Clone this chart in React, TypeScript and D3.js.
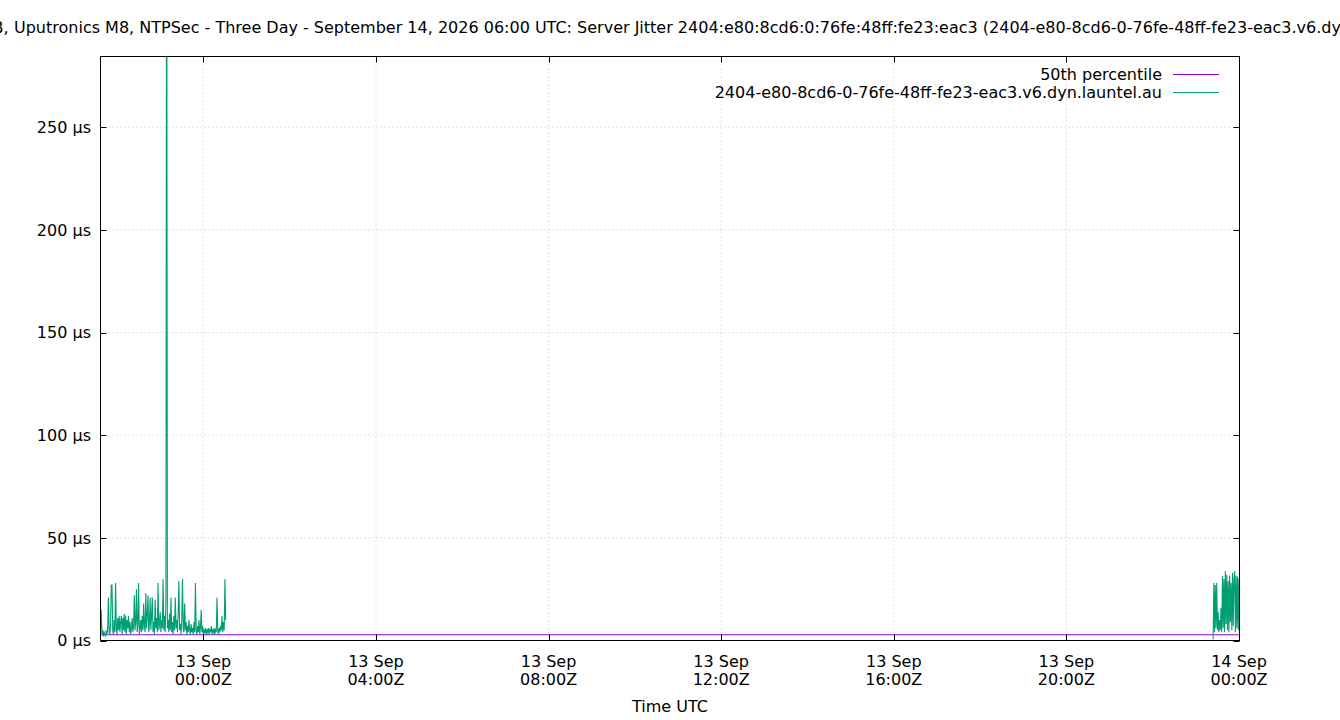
import { useEffect, useRef } from 'react';
import * as d3 from 'd3';

// title is wider than the page in the original render, so it is split in two parts
const titleHead = 'Raspberry Pi 3B,';
const titleTail =
  'Uputronics M8, NTPSec - Three Day - September 14, 2026 06:00 UTC: Server Jitter 2404:e80:8cd6:0:76fe:48ff:fe23:eac3 (2404-e80-8cd6-0-76fe-48ff-fe23-eac3.v6.dyn.launtel.au)';

const seriesName = '2404-e80-8cd6-0-76fe-48ff-fe23-eac3.v6.dyn.launtel.au';
const percentileName = '50th percentile';

// jitter in µs, one sample per minute
const firstRunStart = '2026-09-12T21:37:00Z';
const firstRun = [
  4, 15, 3, 5, 2, 4, 3, 2, 5, 3,
  6, 21, 4, 3, 8, 27, 27, 5, 3, 10,
  4, 28, 6, 3, 11, 5, 12, 4, 9, 12,
  3, 11, 5, 13, 4, 12, 3, 10, 6, 12,
  4, 9, 3, 6, 11, 4, 7, 22, 5, 9,
  25, 4, 8, 28, 3, 6, 10, 4, 12, 5,
  18, 7, 4, 23, 6, 12, 22, 4, 8, 21,
  5, 12, 21, 4, 9, 3, 20, 6, 11, 4,
  28, 5, 8, 14, 4, 10, 6, 30, 5, 12,
  4, 22, 420, 6, 10, 4, 13, 5, 21, 4,
  9, 3, 12, 5, 21, 6, 10, 4, 14, 29,
  5, 8, 3, 11, 30, 6, 4, 18, 5, 9,
  3, 7, 4, 10, 5, 3, 8, 4, 6, 3,
  9, 4, 28, 5, 3, 7, 4, 10, 3, 6,
  15, 4, 7, 3, 5, 4, 6, 3, 5, 4,
  6, 3, 5, 4, 7, 3, 5, 4, 6, 3,
  5, 4, 21, 5, 3, 6, 4, 7, 5, 12,
  4, 9, 5, 30, 10,
];

const secondRunStart = '2026-09-13T23:24:00Z';
const secondRun = [
  0.5, 28, 4, 27, 6, 28, 5, 14, 4, 10,
  5, 16, 4, 31.5, 6, 30, 4, 33.7, 8, 32,
  5, 29, 4, 31.5, 9, 28, 5, 33, 7, 30,
  33.7, 4, 31.5, 6, 31, 5, 30,
];

const percentileValue = 2.8;
const xStart = '2026-09-12T21:37:00Z';
const xEnd = '2026-09-14T00:00:00Z';

const xTicks = [
  '2026-09-13T00:00:00Z',
  '2026-09-13T04:00:00Z',
  '2026-09-13T08:00:00Z',
  '2026-09-13T12:00:00Z',
  '2026-09-13T16:00:00Z',
  '2026-09-13T20:00:00Z',
  '2026-09-14T00:00:00Z',
];
const yTicks = [0, 50, 100, 150, 200, 250];
const yMax = 284.5;

const FONT = '"DejaVu Sans", sans-serif';
const GREEN = '#009e73';
const PURPLE = '#9400d3';

function toPoints(start: string, values: number[]) {
  const t0 = new Date(start).getTime();
  return values.map((v, i) => ({ t: new Date(t0 + i * 60000), v }));
}

export default function App() {
  const svgRef = useRef<SVGSVGElement>(null);

  useEffect(() => {
    if (!svgRef.current) return;
    const svg = d3.select(svgRef.current);
    svg.selectAll('*').remove();

    const W = 1340;
    const H = 720;
    const margin = { top: 56.5, right: 101, bottom: 79.5, left: 100.5 };
    const left = margin.left;
    const right = W - margin.right + 0.5;
    const top = margin.top;
    const bottom = H - margin.bottom;

    svg.attr('width', W).attr('height', H);
    svg.append('rect').attr('width', W).attr('height', H).attr('fill', '#fff');

    const x = d3
      .scaleUtc()
      .domain([new Date(xStart), new Date(xEnd)])
      .range([left, right - 0.5]);
    const y = d3.scaleLinear().domain([0, yMax]).range([bottom, top]);

    // Grid
    const grid = svg.append('g').attr('stroke', '#b8b8b8').attr('stroke-width', 0.8).attr('stroke-dasharray', '1,3');
    yTicks.forEach((v) => {
      grid.append('line').attr('x1', left).attr('x2', right).attr('y1', y(v)).attr('y2', y(v));
    });
    xTicks.forEach((d) => {
      const px = x(new Date(d));
      grid.append('line').attr('x1', px).attr('x2', px).attr('y1', top).attr('y2', bottom);
    });

    // Clip
    svg
      .append('clipPath')
      .attr('id', 'plot-clip')
      .append('rect')
      .attr('x', left)
      .attr('y', top)
      .attr('width', right - left)
      .attr('height', bottom - top);

    const plot = svg.append('g').attr('clip-path', 'url(#plot-clip)');

    const line = d3
      .line<{ t: Date; v: number }>()
      .x((d) => x(d.t))
      .y((d) => y(d.v));

    // percentile line
    plot
      .append('path')
      .datum([
        { t: new Date(xStart), v: percentileValue },
        { t: new Date(xEnd), v: percentileValue },
      ])
      .attr('d', line)
      .attr('fill', 'none')
      .attr('stroke', PURPLE)
      .attr('stroke-width', 1);

    [toPoints(firstRunStart, firstRun), toPoints(secondRunStart, secondRun)].forEach((pts) => {
      plot
        .append('path')
        .datum(pts)
        .attr('d', line)
        .attr('fill', 'none')
        .attr('stroke', GREEN)
        .attr('stroke-width', 1.1)
        .attr('stroke-linejoin', 'miter');
    });

    // Border and ticks
    svg
      .append('rect')
      .attr('x', left)
      .attr('y', top)
      .attr('width', right - left)
      .attr('height', bottom - top)
      .attr('fill', 'none')
      .attr('stroke', '#000')
      .attr('stroke-width', 1);

    const ticks = svg.append('g').attr('stroke', '#000').attr('stroke-width', 1);
    const tl = 6;
    yTicks.forEach((v) => {
      const py = Math.round(y(v)) + 0.5;
      ticks.append('line').attr('x1', left).attr('x2', left + tl).attr('y1', py).attr('y2', py);
      ticks.append('line').attr('x1', right).attr('x2', right - tl).attr('y1', py).attr('y2', py);
    });
    xTicks.forEach((d) => {
      const px = Math.round(x(new Date(d))) + 0.5;
      ticks.append('line').attr('x1', px).attr('x2', px).attr('y1', bottom).attr('y2', bottom - tl);
      ticks.append('line').attr('x1', px).attr('x2', px).attr('y1', top).attr('y2', top + tl);
    });

    const txt = svg.append('g').attr('font-family', FONT).attr('font-size', 16).attr('fill', '#000');

    // Y labels
    yTicks.forEach((v) => {
      txt
        .append('text')
        .attr('x', 91)
        .attr('y', y(v))
        .attr('dy', '0.36em')
        .attr('text-anchor', 'end')
        .text(`${v} µs`);
    });

    // X labels
    const dayFmt = d3.utcFormat('%-d %b');
    const timeFmt = d3.utcFormat('%H:%MZ');
    xTicks.forEach((d) => {
      const dt = new Date(d);
      const px = x(dt);
      txt.append('text').attr('x', px).attr('y', 666.5).attr('text-anchor', 'middle').text(dayFmt(dt));
      txt.append('text').attr('x', px).attr('y', 684.5).attr('text-anchor', 'middle').text(timeFmt(dt));
    });

    txt.append('text').attr('x', 670).attr('y', 712).attr('text-anchor', 'middle').text('Time UTC');

    // Title
    txt.append('text').attr('x', 8.5).attr('y', 33).attr('text-anchor', 'end').text(titleHead);
    txt.append('text').attr('x', 14).attr('y', 33).attr('text-anchor', 'start').text(titleTail);

    // Legend
    const legend = [
      { name: percentileName, color: PURPLE },
      { name: seriesName, color: GREEN },
    ];
    legend.forEach((item, i) => {
      const ly = 74 + i * 18;
      txt.append('text').attr('x', 1162).attr('y', ly).attr('dy', '0.36em').attr('text-anchor', 'end').text(item.name);
      svg
        .append('line')
        .attr('x1', 1173)
        .attr('x2', 1219)
        .attr('y1', ly + 0.5)
        .attr('y2', ly + 0.5)
        .attr('stroke', item.color)
        .attr('stroke-width', 1);
    });
  }, []);

  return (
    <div style={{ position: 'absolute', left: 0, top: 0 }}>
      <svg ref={svgRef} style={{ display: 'block' }} />
    </div>
  );
}
